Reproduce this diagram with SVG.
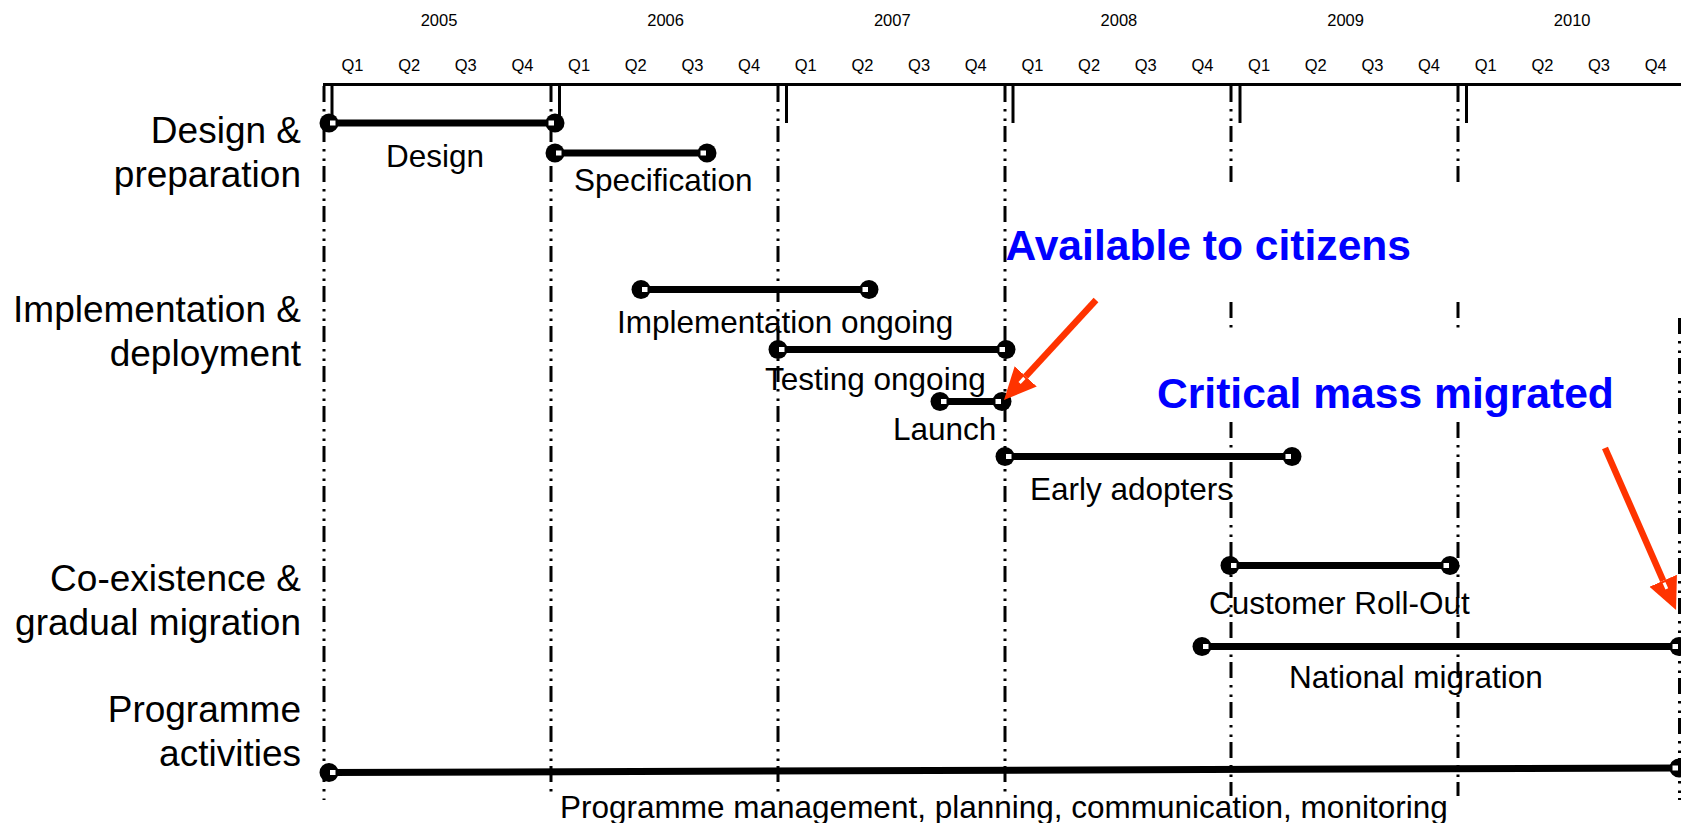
<svg xmlns="http://www.w3.org/2000/svg" width="1681" height="823" viewBox="0 0 1681 823">
  <style>
    text { font-family: "Liberation Sans", Arial, Helvetica, sans-serif; fill: #000; }
    .yr, .q { font-size: 16.5px; text-anchor: middle; }
    .row { font-size: 37px; text-anchor: end; }
    .lbl { font-size: 31.5px; }
    .note { font-size: 42.6px; font-weight: bold; fill: #0000FF; }
    .grid { stroke: #000; stroke-width: 3; stroke-dasharray: 16 7 2.5 7 2.5 5; fill: none; }
    .tick { stroke: #000; stroke-width: 3; }
    .bar { stroke: #000; stroke-width: 7; fill: none; }
    .arrow { stroke: #FF3300; stroke-width: 6.5; fill: none; }
  </style>
  <defs>
    <!-- round end cap of a phase bar; the white nick faces into the bar -->
    <marker id="dot" viewBox="-11 -11 22 22" markerWidth="22" markerHeight="22" refX="0" refY="0" orient="auto-start-reverse" markerUnits="userSpaceOnUse">
      <circle r="9.5" fill="#000"/>
      <rect x="-6.5" y="-2.5" width="5.5" height="5" fill="#fff"/>
    </marker>
    <marker id="head" viewBox="0 -16 34 32" markerWidth="34" markerHeight="32" refX="0" refY="0" orient="auto" markerUnits="userSpaceOnUse">
      <path d="M0,-15 L32,0 L0,15 Z" fill="#FF3300"/>
      <rect x="2" y="-1.5" width="7" height="3" fill="#fff"/>
    </marker>
  </defs>

  <!-- time axis -->
  <g id="axis">
    <line x1="323" y1="84.5" x2="1681" y2="84.5" stroke="#000" stroke-width="3"/>
    <g>
      <text class="yr" x="439" y="25.5">2005</text>
      <text class="yr" x="665.6" y="25.5">2006</text>
      <text class="yr" x="892.3" y="25.5">2007</text>
      <text class="yr" x="1118.9" y="25.5">2008</text>
      <text class="yr" x="1345.6" y="25.5">2009</text>
      <text class="yr" x="1572.2" y="25.5">2010</text>
    </g>
    <g>
      <text class="q" x="352.5" y="70.5">Q1</text>
      <text class="q" x="409.2" y="70.5">Q2</text>
      <text class="q" x="465.8" y="70.5">Q3</text>
      <text class="q" x="522.5" y="70.5">Q4</text>
      <text class="q" x="579.1" y="70.5">Q1</text>
      <text class="q" x="635.8" y="70.5">Q2</text>
      <text class="q" x="692.5" y="70.5">Q3</text>
      <text class="q" x="749.1" y="70.5">Q4</text>
      <text class="q" x="805.8" y="70.5">Q1</text>
      <text class="q" x="862.4" y="70.5">Q2</text>
      <text class="q" x="919.1" y="70.5">Q3</text>
      <text class="q" x="975.8" y="70.5">Q4</text>
      <text class="q" x="1032.4" y="70.5">Q1</text>
      <text class="q" x="1089.1" y="70.5">Q2</text>
      <text class="q" x="1145.7" y="70.5">Q3</text>
      <text class="q" x="1202.4" y="70.5">Q4</text>
      <text class="q" x="1259.1" y="70.5">Q1</text>
      <text class="q" x="1315.7" y="70.5">Q2</text>
      <text class="q" x="1372.4" y="70.5">Q3</text>
      <text class="q" x="1429" y="70.5">Q4</text>
      <text class="q" x="1485.7" y="70.5">Q1</text>
      <text class="q" x="1542.4" y="70.5">Q2</text>
      <text class="q" x="1599" y="70.5">Q3</text>
      <text class="q" x="1655.7" y="70.5">Q4</text>
    </g>
    <g class="tick">
      <line x1="332" y1="84.5" x2="332" y2="123"/>
      <line x1="559.5" y1="84.5" x2="559.5" y2="123"/>
      <line x1="786.5" y1="84.5" x2="786.5" y2="123"/>
      <line x1="1013" y1="84.5" x2="1013" y2="123"/>
      <line x1="1240" y1="84.5" x2="1240" y2="123"/>
      <line x1="1466.5" y1="84.5" x2="1466.5" y2="123"/>
    </g>
  </g>

  <!-- year boundary grid -->
  <g id="grid" class="grid">
    <line x1="324" y1="86" x2="324" y2="800"/>
    <line x1="551" y1="86" x2="551" y2="796"/>
    <line x1="778" y1="86" x2="778" y2="796"/>
    <line x1="1005" y1="86" x2="1005" y2="796"/>
    <line x1="1231" y1="86" x2="1231" y2="183"/>
    <line x1="1231" y1="302" x2="1231" y2="328"/>
    <line x1="1231" y1="422" x2="1231" y2="796"/>
    <line x1="1458" y1="86" x2="1458" y2="183"/>
    <line x1="1458" y1="302" x2="1458" y2="328"/>
    <line x1="1458" y1="422" x2="1458" y2="796"/>
    <line x1="1679.5" y1="318" x2="1679.5" y2="800"/>
  </g>

  <!-- row headings -->
  <g id="row-design">
    <text class="row" x="301" y="142.5">Design &amp;</text>
    <text class="row" x="301" y="186.5">preparation</text>
  </g>
  <g id="row-implementation">
    <text class="row" x="301" y="322">Implementation &amp;</text>
    <text class="row" x="301" y="366">deployment</text>
  </g>
  <g id="row-coexistence">
    <text class="row" x="301" y="591">Co-existence &amp;</text>
    <text class="row" x="301" y="634.5">gradual migration</text>
  </g>
  <g id="row-programme">
    <text class="row" x="301" y="722">Programme</text>
    <text class="row" x="301" y="766">activities</text>
  </g>

  <!-- phase bars and milestone arrows -->
  <g id="connectors">
    <line class="bar" x1="329" y1="123" x2="555" y2="123" marker-start="url(#dot)" marker-end="url(#dot)"/>
    <line class="bar" x1="555" y1="153" x2="707" y2="153" marker-start="url(#dot)" marker-end="url(#dot)"/>
    <line class="bar" x1="641" y1="289.5" x2="869" y2="289.5" marker-start="url(#dot)" marker-end="url(#dot)"/>
    <line class="bar" x1="778" y1="349.5" x2="1006" y2="349.5" marker-start="url(#dot)" marker-end="url(#dot)"/>
    <line class="bar" x1="940" y1="401.5" x2="1002" y2="401.5" marker-start="url(#dot)" marker-end="url(#dot)"/>
    <line class="bar" x1="1005" y1="456.5" x2="1292" y2="456.5" marker-start="url(#dot)" marker-end="url(#dot)"/>
    <line class="bar" x1="1230" y1="565.5" x2="1450" y2="565.5" marker-start="url(#dot)" marker-end="url(#dot)"/>
    <line class="bar" x1="1202" y1="646.5" x2="1679" y2="646.5" marker-start="url(#dot)" marker-end="url(#dot)"/>
    <line class="bar" x1="329" y1="772.5" x2="1679" y2="768" marker-start="url(#dot)" marker-end="url(#dot)"/>
    <line class="arrow" x1="1096" y1="300" x2="1025.7" y2="376.4" marker-end="url(#head)"/>
    <line class="arrow" x1="1605" y1="448" x2="1663.2" y2="580.7" marker-end="url(#head)"/>
  </g>

  <!-- phase labels -->
  <g id="design"><text class="lbl" x="386" y="166.5">Design</text></g>
  <g id="specification"><text class="lbl" x="574" y="190.5">Specification</text></g>
  <g id="implementation"><text class="lbl" x="617" y="332.5">Implementation ongoing</text></g>
  <g id="testing"><text class="lbl" x="765" y="390">Testing ongoing</text></g>
  <g id="launch"><text class="lbl" x="893" y="440">Launch</text></g>
  <g id="early-adopters"><text class="lbl" x="1030" y="500">Early adopters</text></g>
  <g id="customer-rollout"><text class="lbl" x="1209" y="614">Customer Roll-Out</text></g>
  <g id="national-migration"><text class="lbl" x="1289" y="688">National migration</text></g>
  <g id="programme-management"><text class="lbl" x="560" y="817.5">Programme management, planning, communication, monitoring</text></g>

  <!-- milestones -->
  <g id="available"><text class="note" x="1005.5" y="260">Available to citizens</text></g>
  <g id="critical-mass"><text class="note" x="1157" y="407.5">Critical mass migrated</text></g>
</svg>
